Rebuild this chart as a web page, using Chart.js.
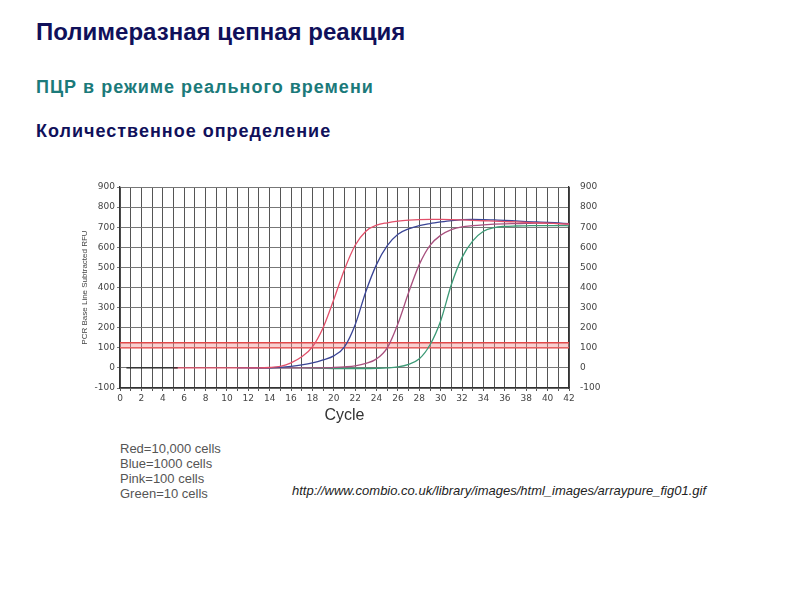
<!DOCTYPE html>
<html>
<head>
<meta charset="utf-8">
<script src="https://cdn.jsdelivr.net/npm/chart.js@4.4.0/dist/chart.umd.min.js"></script>
<style>
  body { margin: 0; width: 794px; height: 595px; background: #fff; position: relative; overflow: hidden;
         font-family: "Liberation Sans", Arial, sans-serif; }
  .t { position: absolute; left: 36px; font-weight: bold; white-space: nowrap; }
  #h1 { top: 18px; font-size: 24px; color: #10105a; }
  #h2 { top: 77px; font-size: 18px; letter-spacing: 1px; color: #1b7a7a; }
  #h3 { top: 121px; font-size: 18px; letter-spacing: 1px; color: #10105a; }
  #legend { position: absolute; left: 120px; top: 441px; font-size: 13px; line-height: 15px; color: #555; }
  #src { position: absolute; left: 292px; top: 483px; font-size: 13px; font-style: italic; color: #222; white-space: nowrap; }
  #wrap { position: absolute; left: 70px; top: 175px; width: 540px; height: 250px; }
</style>
</head>
<body>
<div class="t" id="h1">Полимеразная цепная реакция</div>
<div class="t" id="h2">ПЦР в режиме реального времени</div>
<div class="t" id="h3">Количественное определение</div>
<div id="wrap"><canvas id="pcr"></canvas></div>
<div id="legend"></div>
<div id="src">http://www.combio.co.uk/library/images/html_images/arraypure_fig01.gif</div>

<script>
// ─── Data ────────────────────────────────────────────────────────────────────

const cycles = [1, 2, 3, 4, 5, 6, 7, 8, 9, 10, 11, 12, 13, 14, 15, 16, 17, 18, 19, 20, 21,
  22, 23, 24, 25, 26, 27, 28, 29, 30, 31, 32, 33, 34, 35, 36, 37, 38, 39, 40, 41, 42];

// null = curve not drawn yet at that cycle
const redRFU = [null, null, null, null, 0, 0, 0, 0, 0, 0, 0, 0, 0, 2, 8, 25, 55, 105, 200, 340, 490,
  610, 680, 710, 722, 730, 735, 738, 739, 739, 738, 736, 734, 732, 730, 728, 726, 724, 722, 720, 718, 716];
const blueRFU = [null, null, null, null, null, null, null, null, null, null, 0, 0, 0, 0, 3, 8, 15, 25, 40, 60, 105,
  215, 380, 515, 608, 665, 692, 708, 718, 726, 733, 738, 739, 738, 736, 734, 731, 728, 726, 724, 721, 718];
const pinkRFU = [null, null, null, null, null, null, null, null, null, null, null, 0, 0, 0, 0, 0, 0, 0, 0, 2, 5,
  10, 22, 45, 100, 220, 375, 515, 610, 660, 688, 702, 708, 712, 715, 717, 718, 719, 720, 720, 718, 716];
const greenRFU = [null, null, null, null, null, null, null, null, null, null, null, null, 0, 0, 0, 0, 0, -1, -2, -3, -3,
  -3, -3, -2, 0, 5, 18, 45, 115, 235, 415, 550, 632, 680, 698, 704, 706, 707, 708, 708, 708, 707];

// dark baseline segment at the start of the run
const baseCycles = [0.6, 5.4];
const baseRFU = [0, 0];

// threshold band
const thresholdCycles = [0, 42];
const thresholdLow = [100, 100];
const thresholdHigh = [125, 125];

const legendLines = ['Red=10,000 cells', 'Blue=1000 cells', 'Pink=100 cells', 'Green=10 cells'];

// ─── Chart ───────────────────────────────────────────────────────────────────

const pts = (xs, ys) => xs.map((x, i) => ({ x, y: ys[i] }));

function curve(label, values, color, order) {
  return {
    label,
    data: pts(cycles, values),
    borderColor: color,
    borderWidth: 1.3,
    pointRadius: 0,
    cubicInterpolationMode: 'monotone',
    spanGaps: false,
    fill: false,
    order,
  };
}

const tickFont = { family: 'DejaVu Sans', size: 9 };

new Chart(document.getElementById('pcr'), {
  type: 'line',
  data: {
    datasets: [
      {
        label: 'thr-low', data: pts(thresholdCycles, thresholdLow),
        borderColor: '#e04848', borderWidth: 1.4, pointRadius: 0, fill: false, order: 10,
      },
      {
        label: 'thr-high', data: pts(thresholdCycles, thresholdHigh),
        borderColor: '#e04848', borderWidth: 1.4, pointRadius: 0,
        fill: '-1', backgroundColor: 'rgba(240,150,150,0.45)', order: 9,
      },
      {
        label: 'base', data: pts(baseCycles, baseRFU),
        borderColor: '#222', borderWidth: 1.4, pointRadius: 0, fill: false, order: 1,
      },
      curve('Green', greenRFU, '#3c9a76', 5),
      curve('Pink', pinkRFU, '#a8507e', 4),
      curve('Blue', blueRFU, '#3a4596', 3),
      curve('Red', redRFU, '#e2506a', 2),
    ],
  },
  options: {
    responsive: true,
    maintainAspectRatio: false,
    animation: false,
    layout: { padding: { top: 12, left: 0, right: 0, bottom: 0 } },
    plugins: { legend: { display: false }, tooltip: { enabled: false } },
    scales: {
      x: {
        type: 'linear', min: 0, max: 42,
        ticks: {
          stepSize: 1, autoSkip: false, maxRotation: 0, color: '#444', font: tickFont, padding: 2,
          callback: v => (v % 2 === 0 ? String(v) : ''),
        },
        grid: { color: '#555', lineWidth: 1, tickLength: 3 },
        border: { color: '#333', width: 1.3 },
        title: {
          display: true, text: 'Cycle', color: '#333',
          font: { family: 'Liberation Sans', size: 16 }, padding: { top: 0, bottom: 0 },
        },
        afterFit: axis => { axis.height = 37; },
      },
      y: {
        min: -100, max: 900,
        ticks: { stepSize: 100, color: '#444', font: tickFont, padding: 2 },
        grid: { color: '#777', lineWidth: 1, tickLength: 3 },
        border: { color: '#333', width: 1.3 },
        title: {
          display: true, text: 'PCR Base Line Subtracted RFU', color: '#444',
          font: { family: 'Liberation Sans', size: 8 }, padding: { top: 10, bottom: 0 },
        },
        afterFit: axis => { axis.width = 50; },
      },
      y2: {
        position: 'right', min: -100, max: 900,
        ticks: { stepSize: 100, color: '#444', font: tickFont, padding: 3 },
        grid: { display: false },
        border: { color: '#333', width: 1.3 },
        afterFit: axis => { axis.width = 41; },
      },
    },
  },
});

document.getElementById('legend').innerHTML = legendLines.map(s => `<div>${s}</div>`).join('');
</script>
</body>
</html>
